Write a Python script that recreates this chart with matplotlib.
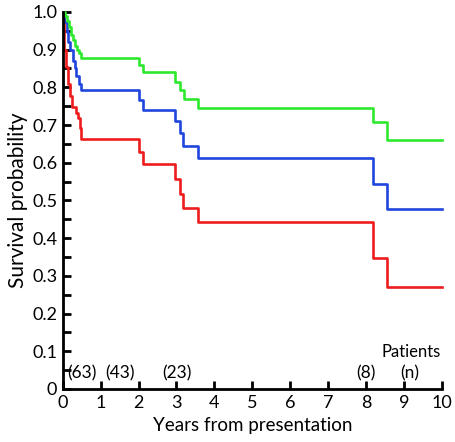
import numpy as np
import matplotlib
matplotlib.use("Agg")
import matplotlib.pyplot as plt
from matplotlib.ticker import MultipleLocator

# Kaplan-Meier style step data (time in years, survival after each step)
green_t = [0, 0.05, 0.10, 0.16, 0.22, 0.28, 0.33, 0.38, 0.43, 0.48, 2.0, 2.12, 2.96, 3.09, 3.19, 3.56, 8.18, 8.55, 10]
green_s = [1.0, 0.99, 0.975, 0.96, 0.94, 0.925, 0.91, 0.90, 0.89, 0.877, 0.859, 0.841, 0.814, 0.793, 0.769, 0.745, 0.708, 0.659, 0.659]

blue_t = [0, 0.03, 0.10, 0.15, 0.20, 0.26, 0.31, 0.36, 0.42, 0.49, 2.0, 2.12, 2.96, 3.10, 3.17, 3.57, 8.18, 8.55, 10]
blue_s = [1.0, 0.974, 0.948, 0.92, 0.90, 0.87, 0.85, 0.83, 0.81, 0.793, 0.767, 0.74, 0.711, 0.678, 0.645, 0.613, 0.544, 0.477, 0.477]

red_t = [0, 0.02, 0.08, 0.14, 0.18, 0.25, 0.34, 0.40, 0.45, 0.49, 2.0, 2.12, 2.96, 3.10, 3.17, 3.57, 8.18, 8.55, 10]
red_s = [1.0, 0.90, 0.855, 0.81, 0.776, 0.749, 0.732, 0.719, 0.692, 0.663, 0.628, 0.597, 0.556, 0.516, 0.479, 0.443, 0.347, 0.27, 0.27]

# patients at risk labels
risk_x = [0.5, 1.5, 3.0, 8.0, 9.15]
risk_labels = ["(63)", "(43)", "(23)", "(8)", "(n)"]

y_ticks = [0, 0.1, 0.2, 0.3, 0.4, 0.5, 0.6, 0.7, 0.8, 0.9, 1.0]
y_tick_labels = ["0", "0.1", "0.2", "0.3", "0.4", "0.5", "0.6", "0.7", "0.8", "0.9", "1.0"]

plt.rcParams['font.family'] = ['Lato', 'DejaVu Sans']

fig = plt.figure(figsize=(4.55, 4.42), dpi=100)
ax = fig.add_axes([0.138, 0.12, 0.833, 0.853])

ax.step(red_t, red_s, where='post', color='#ee1c1c', lw=1.9, clip_on=False)
ax.step(blue_t, blue_s, where='post', color='#1f45dd', lw=1.9, clip_on=False)
ax.step(green_t, green_s, where='post', color='#2ee82e', lw=1.9, clip_on=False)

ax.set_xlim(0, 10)
ax.set_ylim(0, 1.0)

for s in ['top', 'right']:
    ax.spines[s].set_visible(False)
for s in ['left', 'bottom']:
    ax.spines[s].set_linewidth(2)

ax.xaxis.set_major_locator(MultipleLocator(1))
ax.set_yticks(y_ticks)
ax.set_yticklabels(y_tick_labels)
ax.yaxis.set_minor_locator(MultipleLocator(0.05))
ax.tick_params(axis='both', which='both', direction='in', length=6, width=2,
               labelsize=13, colors='black')
ax.tick_params(axis='x', pad=4)
ax.tick_params(axis='y', pad=4)

ax.set_xlabel("Years from presentation", fontsize=13.5, labelpad=5)
ax.set_ylabel("Survival probability", fontsize=15, labelpad=3)

for x, lab in zip(risk_x, risk_labels):
    ax.text(x, 0.042, lab, ha='center', va='center', fontsize=12.5)
ax.text(9.18, 0.098, "Patients", ha='center', va='center', fontsize=12)

fig.savefig("out.png", dpi=100)
